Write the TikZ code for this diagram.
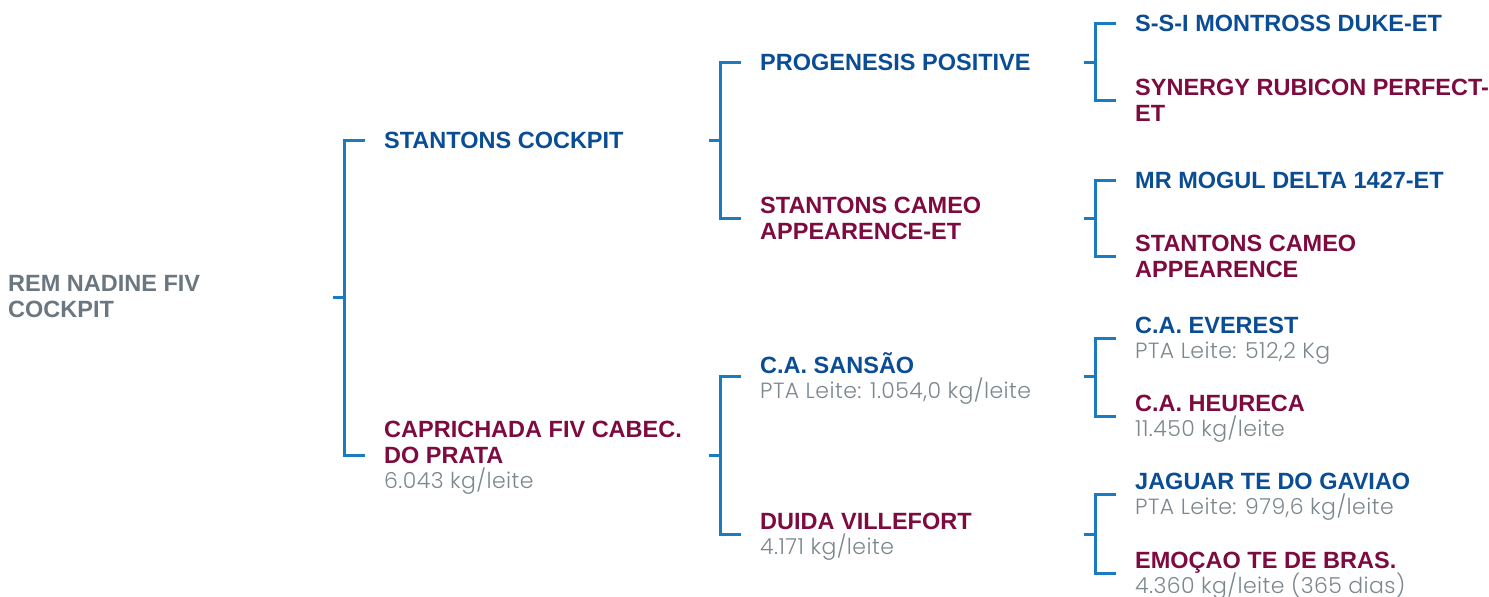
\documentclass[tikz,border=0pt]{standalone}
\usepackage{fontspec}
\setmainfont{Liberation Sans}
\newfontfamily\detailfont{Poppins Light}[LetterSpace=2]
\definecolor{sireblue}{HTML}{0B4D95}
\definecolor{damred}{HTML}{7E0B40}
\definecolor{linkblue}{HTML}{1A7AC2}
\definecolor{rootgray}{HTML}{6B7780}
\definecolor{infogray}{HTML}{7C878E}
\newcommand{\info}[1]{\raisebox{0pt}[\height][0pt]{\detailfont\mdseries\fontsize{22}{25}\selectfont\color{infogray}#1}}
\begin{document}
\begin{tikzpicture}[
    x=1pt, y=-1pt,
    animal/.style={anchor=west, inner sep=0pt, align=left,
                   font=\bfseries\fontsize{23.5}{26}\selectfont},
    sire/.style={animal, text=sireblue},
    dam/.style={animal, text=damred},
    link/.style={draw=linkblue, line width=3pt},
]
  \useasboundingbox (0,0) rectangle (1489,597);

  % Animal
  \node[animal, text=rootgray] (root) at (8,297) {REM NADINE FIV\\COCKPIT};

  % Parents
  \node[sire] (sc)  at (384,140) {STANTONS COCKPIT};
  \node[dam]  (cap) at (384,455) {CAPRICHADA FIV CABEC.\\DO PRATA\\[-1pt]\info{6.043 kg/leite}};

  % Grandparents
  \node[sire] (pp)  at (760,62)  {PROGENESIS POSITIVE};
  \node[dam]  (scm) at (760,218) {STANTONS CAMEO\\APPEARENCE-ET};
  \node[sire] (cas) at (760,376) {C.A. SANSÃO\\[-1pt]\info{PTA Leite: 1.054,0 kg/leite}};
  \node[dam]  (dv)  at (760,534) {DUIDA VILLEFORT\\[-1pt]\info{4.171 kg/leite}};

  % Great-grandparents
  \node[sire] (mdk) at (1135,23)  {S-S-I MONTROSS DUKE-ET};
  \node[dam]  (srp) at (1135,100) {SYNERGY RUBICON PERFECT-\\ET};
  \node[sire] (mmd) at (1135,180) {MR MOGUL DELTA 1427-ET};
  \node[dam]  (sca) at (1135,256) {STANTONS CAMEO\\APPEARENCE};
  \node[sire] (cae) at (1135,338) {C.A. EVEREST\\[-1pt]\info{PTA Leite: 512,2 Kg}};
  \node[dam]  (cah) at (1135,416) {C.A. HEURECA\\[-1pt]\info{11.450 kg/leite}};
  \node[sire] (jag) at (1135,494) {JAGUAR TE DO GAVIAO\\[-1pt]\info{PTA Leite: 979,6 kg/leite}};
  \node[dam]  (emo) at (1135,573) {EMOÇAO TE DE BRAS.\\[-1pt]\info{4.360 kg/leite (365 dias)}};

  % Brackets
  \foreach \p/\a/\b in {root/sc/cap, sc/pp/scm, cap/cas/dv, pp/mdk/srp,
                        scm/mmd/sca, cas/cae/cah, dv/jag/emo} {
    \draw[link] ([xshift=-19pt]\a.west) -| ([xshift=-40pt]\b.west) -- ([xshift=-19pt]\b.west);
    \draw[link] (\p.west -| \a.west) ++(-40,0) -- ++(-11,0);
  }
\end{tikzpicture}
\end{document}
